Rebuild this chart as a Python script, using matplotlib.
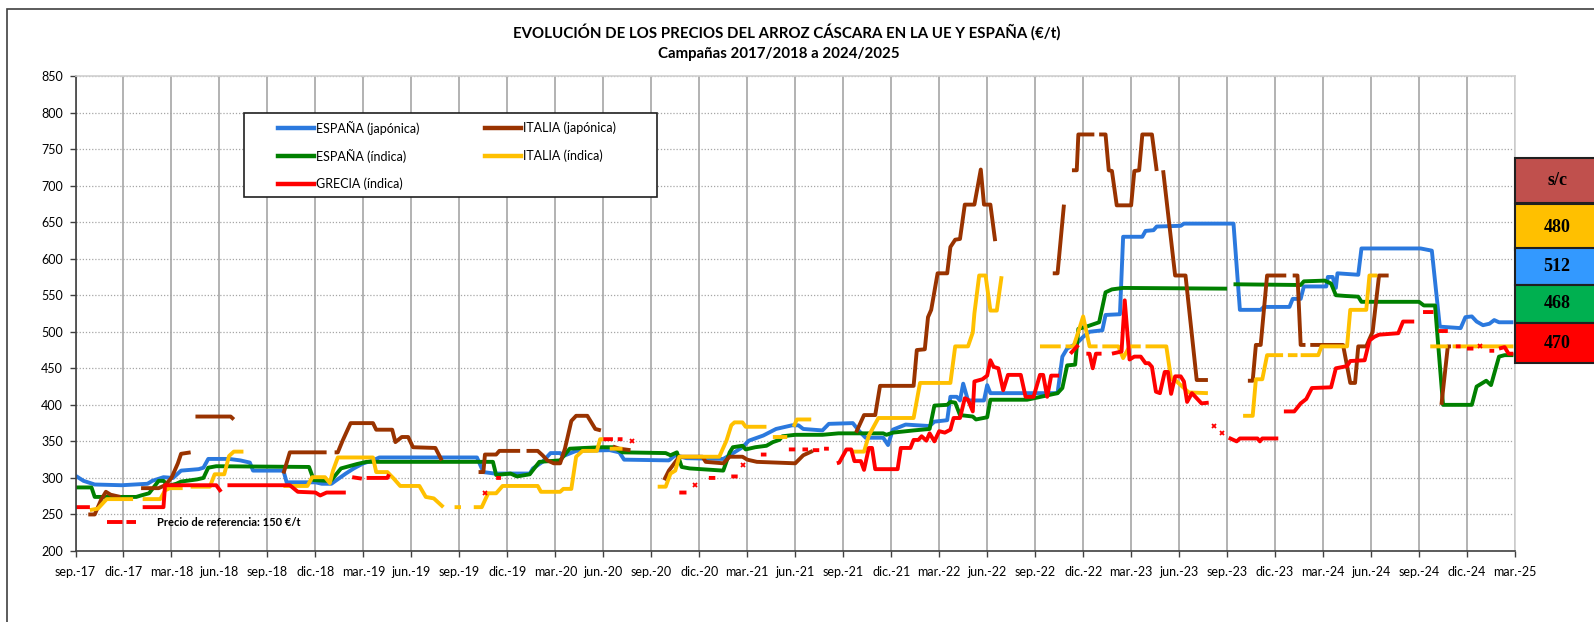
import numpy as np
import matplotlib.pyplot as plt
from matplotlib.patches import Rectangle
from matplotlib.lines import Line2D

plt.rcParams['font.family'] = ['Lato', 'DejaVu Sans']

NaN = np.nan

# x = meses desde sep.-17 (0 = sep.-17, 3 = dic.-17 ...), y = precio en €/t
# NaN corta la linea (semanas sin cotizacion)
espana_japonica = [
    (0, 303), (0.5, 296), (1.2, 291), (2.9, 290), (4.5, 292), (4.8, 296), (5.5, 301), (6.1, 300),
    (6.6, 310), (7.7, 312), (8.0, 314), (8.3, 326), (9.6, 326), (10.3, 324), (10.9, 321), (11.1, 310),
    (13.0, 310), (13.2, 294), (15.0, 294), (15.4, 292), (16.0, 292), (16.9, 306), (17.4, 313), (18.0, 320),
    (18.6, 324), (19.0, 328), (25.1, 328), (25.5, 308), (26.2, 306), (28.4, 306), (28.6, 313), (29.2, 322),
    (29.7, 334), (30.3, 334), (30.5, 330), (31.3, 337), (33.4, 338), (34.0, 335), (34.3, 325), (37.1, 324),
    (37.5, 331), (38.2, 327), (40.5, 326), (40.9, 331), (41.7, 342), (42.1, 351), (43.0, 358), (43.8, 367),
    (44.8, 372), (45.2, 372), (45.5, 367), (46.7, 365), (47.1, 374), (48.6, 375), (49.0, 364), (49.4, 355),
    (50.5, 355), (50.8, 345), (51.1, 366), (51.9, 373), (53.4, 371), (53.7, 377), (54.5, 379), (54.7, 411),
    (55.1, 411), (55.3, 406), (55.5, 429), (55.8, 406), (56.8, 406), (57.0, 427), (57.2, 416), (61.4, 416),
    (61.7, 466), (62.0, 477), (62.6, 484), (63.0, 493), (63.4, 500), (64.2, 502), (64.4, 523), (65.3, 524),
    (65.5, 630), (66.7, 630), (66.9, 638), (67.4, 639), (67.6, 644), (69.1, 645), (69.3, 648), (72.4, 648),
    (72.6, 589), (72.8, 530), (74.1, 530), (74.3, 534), (75.9, 534), (76.1, 545), (76.6, 545), (76.8, 562),
    (78.2, 562), (78.3, 575), (78.6, 575), (78.8, 560), (78.9, 580), (80.2, 578), (80.4, 614), (84.1, 614),
    (84.8, 611), (85.3, 507), (86.6, 505), (86.9, 520), (87.3, 521), (87.6, 514), (88.0, 509), (88.4, 511),
    (88.7, 516), (89.0, 513), (89.9, 513),
]

italia_japonica = [
    (0.8, 250), (1.2, 250), (1.6, 270), (1.9, 281), (2.2, 277), (2.8, 274), (3.0, NaN),
    (4.1, 286), (5.2, 286), (5.6, 290), (6.0, 300), (6.4, 320), (6.6, 333), (7.2, 335), (7.3, NaN),
    (7.5, 384), (9.7, 384), (9.9, 380), (10.0, NaN),
    (13.0, 306), (13.4, 335), (15.7, 335), (15.9, NaN), (16.2, 335), (16.4, 335), (16.7, 351), (17.2, 375),
    (18.6, 375), (18.8, 366), (19.8, 366), (20.0, 349), (20.4, 356), (20.8, 356), (21.1, 342), (22.5, 341),
    (22.9, 324), (23.0, NaN),
    (25.2, 308), (25.5, 308), (25.6, 332), (26.3, 332), (26.5, 337), (27.8, 337), (28.0, NaN), (28.2, 337),
    (28.9, 337), (29.2, 331), (29.5, 324), (29.9, 320), (30.3, 320), (30.6, 340), (31.0, 378), (31.3, 385),
    (32.0, 385), (32.5, 367), (32.85, 365), (33.0, NaN), (33.6, 343), (34.0, 340), (34.7, 338), (34.8, NaN),
    (36.8, 297), (37.1, 310), (37.75, 329), (39.2, 329), (39.4, 322), (40.5, 320), (40.9, 329), (41.7, 329),
    (42.0, 325), (42.6, 322), (45.0, 320), (45.5, 331), (46.1, 337), (46.2, NaN),
    (48.8, 362), (49.3, 386), (50.0, 386), (50.3, 426), (52.4, 426), (52.6, 475), (53.1, 476), (53.3, 520),
    (53.5, 530), (53.9, 580), (54.5, 580), (54.7, 616), (55.0, 626), (55.3, 627), (55.6, 674), (56.2, 674),
    (56.6, 722), (56.8, 674), (57.2, 674), (57.5, 624), (57.6, NaN),
    (61.1, 580), (61.4, 580), (61.8, 674), (62.0, NaN), (62.3, 721), (62.6, 721), (62.7, 770), (63.7, 770),
    (63.8, NaN), (64.0, 770), (64.4, 770), (64.6, 721), (64.8, 720), (65.1, 673), (66.0, 673), (66.2, 720),
    (66.5, 721), (66.7, 770), (67.3, 770), (67.6, 720), (67.8, NaN), (68.0, 721), (68.75, 577), (69.4, 577),
    (70.1, 434), (70.8, 434), (70.9, NaN),
    (73.3, 433), (73.6, 433), (73.8, 482), (74.1, 482), (74.5, 577), (75.7, 577), (75.9, NaN), (76.1, 577),
    (76.4, 577), (76.6, 482), (76.9, 482), (77.0, NaN), (77.2, 482), (79.25, 482), (79.7, 430), (80.0, 430),
    (80.2, 480), (80.7, 480), (81.1, 500), (81.5, 577), (82.1, 577), (82.2, NaN),
    (85.4, 400), (85.8, 480), (86.0, 480),
]

espana_indica = [
    (0, 287), (1.0, 287), (1.2, 274), (3.8, 274), (4.1, 276), (4.6, 279), (5.2, 296), (5.5, 296),
    (5.8, 289), (6.3, 292), (6.6, 295), (7.6, 298), (8.0, 300), (8.3, 314), (8.8, 316), (14.6, 315),
    (14.9, 297), (15.8, 296), (16.0, 297), (16.6, 313), (17.6, 319), (18.2, 322), (26.1, 322), (26.3, 304),
    (27.2, 306), (27.6, 302), (28.4, 305), (29.0, 322), (30.3, 324), (30.9, 340), (31.8, 341), (32.9, 342),
    (33.6, 342), (34.2, 335), (36.9, 334), (37.2, 331), (37.6, 335), (37.9, 315), (38.4, 313), (40.5, 310),
    (40.9, 335), (41.1, 342), (41.7, 344), (41.9, 339), (42.5, 342), (43.2, 344), (43.6, 349), (44.0, 352),
    (44.2, 357), (45.0, 359), (46.7, 359), (47.7, 361), (50.5, 361), (50.7, 359), (51.1, 362), (52.4, 365),
    (53.4, 367), (53.7, 399), (54.5, 400), (54.7, 404), (55.0, 403), (55.3, 386), (56.1, 384), (56.3, 380),
    (57.0, 383), (57.2, 407), (59.5, 407), (61.4, 416), (61.7, 423), (62.0, 454), (62.5, 455), (62.7, 504),
    (63.2, 507), (64.0, 513), (64.4, 554), (64.8, 558), (65.5, 560), (72.0, 559), (72.2, NaN), (72.4, 565),
    (76.6, 564), (76.8, 569), (78.1, 570), (78.5, 566), (78.8, 550), (79.4, 549), (80.2, 548), (80.4, 541),
    (84.0, 541), (84.3, 536), (85.0, 536), (85.5, 400), (87.3, 400), (87.6, 425), (87.9, 429), (88.2, 433),
    (88.5, 427), (89.0, 466), (89.35, 468), (89.9, 468),
]

italia_indica = [
    (0.9, 256), (1.4, 258), (1.95, 271), (3.6, 271), (3.8, NaN), (4.2, 271), (5.3, 271), (5.6, 283),
    (5.9, 286), (6.7, 286), (6.9, NaN), (7.2, 288), (8.4, 288), (8.7, 305), (9.3, 305), (9.6, 330),
    (9.9, 336), (10.5, 336), (10.6, NaN),
    (13.0, 289), (14.5, 289), (14.8, 301), (15.6, 301), (15.9, 293), (16.1, 310), (16.4, 328), (18.6, 328),
    (18.8, 308), (19.5, 308), (19.9, 299), (20.3, 289), (21.5, 289), (21.9, 274), (22.4, 272), (23.0, 260),
    (23.2, NaN), (23.7, 260), (24.1, 260), (24.4, NaN), (24.9, 260), (25.4, 260), (25.8, 279), (26.3, 279),
    (26.7, 289), (28.9, 289), (29.1, 281), (30.3, 281), (30.5, 285), (31.0, 285), (31.3, 329), (31.7, 337),
    (32.6, 337), (32.8, 353), (33.0, 353), (33.2, NaN), (33.4, 340), (34.2, 340), (34.3, NaN),
    (36.4, 288), (36.9, 288), (37.2, 306), (37.5, 310), (37.75, 329), (40.25, 329), (40.7, 351), (41.0, 372),
    (41.2, 376), (41.7, 376), (41.9, 370), (43.2, 370), (43.4, NaN), (43.6, 356), (44.5, 356), (44.7, NaN),
    (44.9, 370), (45.1, 380), (46.0, 380), (46.1, NaN),
    (48.6, 336), (49.3, 336), (49.6, 358), (50.2, 382), (52.4, 382), (52.8, 430), (54.7, 430), (55.0, 480),
    (55.8, 480), (56.1, 499), (56.2, 525), (56.5, 577), (56.9, 577), (57.2, 529), (57.6, 529), (57.9, 576),
    (58.0, NaN),
    (60.3, 480), (61.6, 480), (61.75, NaN), (61.9, 480), (62.4, 480), (62.7, 500), (63.0, 521), (63.4, 480),
    (63.9, 480), (64.05, NaN), (64.2, 480), (65.2, 480), (65.5, 464), (65.9, 480), (66.6, 480), (66.75, NaN),
    (66.9, 480), (68.2, 480), (68.5, 435), (68.75, 434), (69.6, 417), (70.8, 416), (70.9, NaN),
    (73.0, 385), (73.6, 385), (73.8, 435), (74.2, 435), (74.5, 468), (75.5, 468), (75.65, NaN), (75.8, 468),
    (76.4, 468), (76.5, NaN), (76.6, 468), (77.7, 468), (77.9, 480), (79.5, 480), (79.7, 530), (80.7, 530),
    (80.9, 577), (81.4, 577), (81.5, NaN),
    (84.7, 480), (85.8, 480), (85.95, NaN), (86.1, 480), (89.9, 480),
]

grecia_indica = [
    (0, 260), (0.9, 260), (1.0, NaN), (4.2, 260), (5.5, 260), (5.6, 290), (8.8, 290), (9.1, 281), (9.3, NaN),
    (9.5, 290), (13.4, 290), (13.9, 281), (15.0, 280), (15.3, 276), (15.7, 280), (16.9, 280), (17.1, NaN),
    (17.3, 301), (17.9, 299), (18.05, NaN), (18.2, 300), (19.5, 300), (19.6, 305), (19.7, NaN),
    (26.3, 300), (26.6, 300), (26.7, NaN),
    (33.0, 353), (33.6, 353), (33.75, NaN), (33.9, 353), (34.2, 353), (34.3, NaN),
    (37.75, 280), (38.2, 280), (38.3, NaN), (39.6, 300), (40.0, 300), (40.1, NaN), (41.0, 302), (41.4, 302),
    (41.5, NaN), (42.85, 332), (43.2, 332), (43.3, NaN), (44.6, 339), (45.0, 339), (45.2, NaN), (45.45, 339),
    (45.8, 339), (45.95, NaN), (46.1, 338), (46.5, 338), (46.65, NaN), (46.8, 340), (47.1, 340), (47.3, NaN),
    (47.6, 320), (47.75, 321), (48.2, 339), (48.5, 339), (48.7, 323), (49.1, 323), (49.3, 311), (49.6, 341),
    (49.8, 341), (50.0, 312), (51.4, 312), (51.6, 341), (52.2, 341), (52.4, 352), (52.7, 352), (52.9, 357),
    (53.2, 351), (53.4, 361), (53.7, 350), (54.0, 364), (54.35, 362), (54.7, 366), (54.9, 382), (55.3, 382),
    (55.6, 409), (55.8, 407), (56.1, 391), (56.2, 432), (56.7, 435), (57.0, 440), (57.2, 461), (57.4, 452),
    (57.7, 450), (58.0, 420), (58.3, 441), (59.1, 441), (59.4, 411), (59.9, 411), (60.3, 441), (60.5, 441),
    (60.75, 411), (61.0, 440), (61.5, 440), (61.7, NaN),
    (62.2, 470), (62.7, 482), (62.9, NaN), (63.2, 470), (63.4, 470), (63.6, 450), (63.8, 470), (64.15, 470),
    (64.4, NaN), (64.8, 470), (65.4, 473), (65.6, 543), (65.9, 462), (66.2, 466), (66.6, 466), (66.9, 457),
    (67.1, 457), (67.3, 452), (67.55, 418), (67.8, 416), (68.1, 445), (68.3, 445), (68.5, 415), (68.75, 439),
    (69.1, 439), (69.3, 432), (69.5, 404), (69.8, 416), (70.1, 409), (70.4, 402), (70.85, 403), (71.0, NaN),
    (72.1, 355), (72.6, 350), (72.8, 354), (73.9, 354), (74.05, 350), (74.2, 354), (75.2, 354), (75.3, NaN),
    (75.55, 391), (76.2, 391), (76.6, 402), (76.95, 408), (77.3, 423), (78.5, 424), (78.8, 450), (79.5, 453),
    (79.7, 460), (80.6, 461), (80.9, 488), (81.2, 493), (81.5, 496), (82.7, 498), (83.0, 514), (83.7, 514),
    (83.9, NaN), (84.25, 527), (84.9, 527), (85.0, NaN), (85.2, 501), (85.8, 501), (85.9, NaN),
    (86.3, 480), (86.6, 480), (86.7, NaN), (87.0, 477), (87.4, 477), (87.5, NaN), (88.4, 474), (88.7, 474),
    (88.8, NaN), (89.0, 477), (89.35, 479), (89.6, 470), (89.9, 470),
]
# semanas sueltas de Grecia (marcadas con x)
grecia_sueltos_m = [25.6, 34.8, 38.75, 41.75, 71.2, 71.7, 87.8]
grecia_sueltos_v = [280, 350, 290, 318, 371, 361, 480]

tick_labels = ['sep.-17', 'dic.-17', 'mar.-18', 'jun.-18', 'sep.-18', 'dic.-18', 'mar.-19', 'jun.-19',
               'sep.-19', 'dic.-19', 'mar.-20', 'jun.-20', 'sep.-20', 'dic.-20', 'mar.-21', 'jun.-21',
               'sep.-21', 'dic.-21', 'mar.-22', 'jun.-22', 'sep.-22', 'dic.-22', 'mar.-23', 'jun.-23',
               'sep.-23', 'dic.-23', 'mar.-24', 'jun.-24', 'sep.-24', 'dic.-24', 'mar.-25']

ultimos_valores = ['s/c', '480', '512', '468', '470']
ultimos_colores = ['#C0504D', '#FFC000', '#3399FF', '#00B050', '#FF0000']

series = [
    (espana_japonica, '#2B79DE', 'ESPAÑA (japónica)'),
    (espana_indica, '#008000', 'ESPAÑA (índica)'),
    (grecia_indica, '#FF0000', 'GRECIA (índica)'),
    (italia_japonica, '#993300', 'ITALIA (japónica)'),
    (italia_indica, '#FFC000', 'ITALIA (índica)'),
]

W, H = 1594, 622
fig = plt.figure(figsize=(W / 100, H / 100), dpi=100)
ax = fig.add_axes([75.5 / W, 71 / H, 1439.5 / W, 475 / H])

# orden de dibujo: azul, verde, marron, amarillo, rojo
for idx in [0, 1, 3, 4, 2]:
    pts, col, lab = series[idx]
    arr = np.array(pts, dtype=float)
    ax.plot(arr[:, 0], arr[:, 1], color=col, lw=2.8, solid_capstyle='butt')
ax.plot(grecia_sueltos_m, grecia_sueltos_v, ls='none', marker='x', color='#FF0000', ms=3.5, mew=1.3)

ax.set_xlim(0, 90)
ax.set_ylim(200, 850)
ax.set_xticks(np.arange(0, 91, 3))
ax.set_xticklabels(tick_labels)
ax.set_yticks(np.arange(200, 851, 50))
ax.tick_params(axis='x', direction='out', length=4, width=1, pad=6.5, labelsize=9, color='#404040')
ax.tick_params(axis='y', direction='out', length=4, width=1, pad=5, labelsize=9, color='#404040')
ax.grid(axis='x', color='#A6A6A6', lw=1.2, ls='-')
ax.grid(axis='y', color='#A6A6A6', lw=0.9, ls=(0, (1, 1.5)))
ax.set_axisbelow(True)
for s in ['left', 'bottom']:
    ax.spines[s].set_color('#404040')
    ax.spines[s].set_linewidth(1.2)
for s in ['top', 'right']:
    ax.spines[s].set_color('#D0D0D0')
    ax.spines[s].set_linewidth(1.2)

# marco exterior
fig.patches.append(Rectangle((7.5 / W, -0.1), 1.2, 1.1 - 8.5 / H, transform=fig.transFigure,
                             fill=False, ec='#404040', lw=1.2))

# titulo
fig.text(787 / W, 1 - 32 / H, 'EVOLUCIÓN DE LOS PRECIOS DEL ARROZ CÁSCARA EN LA UE Y ESPAÑA (€/t)',
         ha='center', va='center', fontsize=10.8, fontweight='bold')
fig.text(779 / W, 1 - 54 / H, 'Campañas 2017/2018 a 2024/2025',
         ha='center', va='center', fontsize=10.8, fontweight='bold')

# leyenda (dibujada a mano para respetar la posicion)
fig.patches.append(Rectangle((244 / W, 1 - 197 / H), 413 / W, 84 / H, transform=fig.transFigure,
                             fill=True, fc='white', ec='#202020', lw=1.2, zorder=5))
leg_x = [278, 485]
leg_y = [127.7, 155.7, 183.7]
for k, (pts, col, lab) in enumerate(series):
    c, r = divmod(k, 3)
    x0 = leg_x[c]
    y0 = 1 - leg_y[r] / H
    fig.lines.append(Line2D([x0 / W, (x0 + 36) / W], [y0, y0], transform=fig.transFigure,
                            color=col, lw=3.2, zorder=6))
    fig.text((x0 + 38) / W, y0, lab, ha='left', va='center', fontsize=9, zorder=6)

# precio de referencia
ax.plot([0.022, 0.042], [0.061, 0.061], transform=ax.transAxes, color='#FF0000', lw=2.8,
        ls=(0, (4, 1)), clip_on=False)
ax.text(0.0566, 0.061, 'Precio de referencia: 150 €/t', transform=ax.transAxes, ha='left',
        va='center', fontsize=8, fontweight='bold')

# cuadros con el ultimo precio
box_tops = [157.6, 204, 248, 285, 323]
box_bots = [203, 250, 285, 323, 363]
for val, col, t, b in zip(ultimos_valores, ultimos_colores, box_tops, box_bots):
    fig.patches.append(Rectangle((1515 / W, 1 - b / H), 90 / W, (b - t) / H, transform=fig.transFigure,
                                 fc=col, ec='#202020', lw=1.5, zorder=5))
    fig.text(1557 / W, 1 - (t + b) / 2 / H, val, ha='center', va='center', fontsize=13,
             fontweight='bold', family=['Liberation Serif', 'DejaVu Serif'], zorder=6)

fig.savefig('out.png', dpi=100)
